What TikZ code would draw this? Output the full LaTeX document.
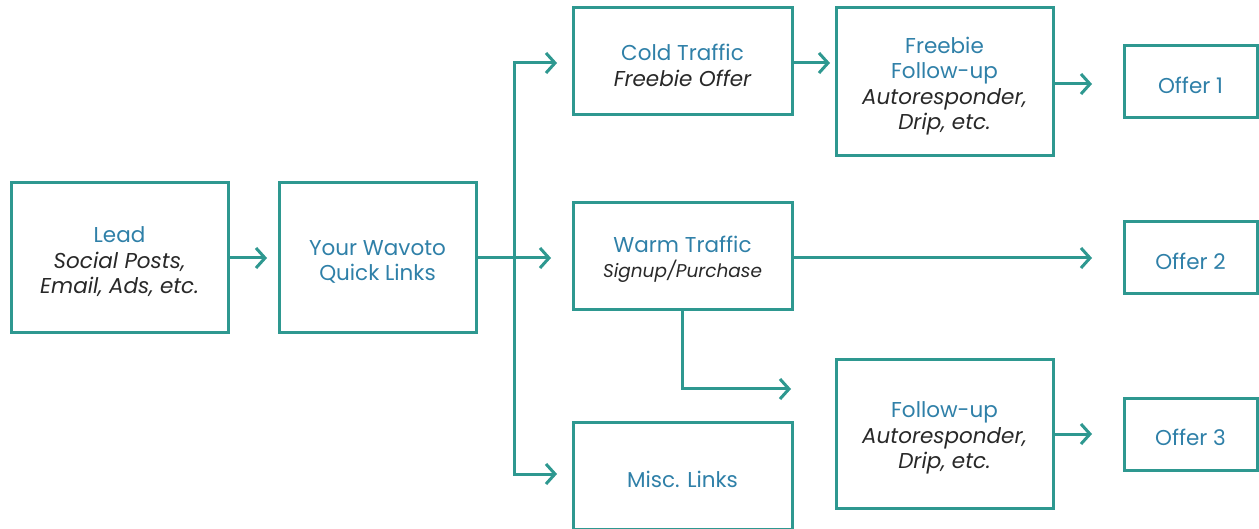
\documentclass[tikz,border=0pt]{standalone}
\usepackage{fontspec}
\setmainfont{Poppins}
\usetikzlibrary{arrows.meta,calc}
\definecolor{teal1}{RGB}{46,152,144}
\definecolor{blue1}{RGB}{47,128,168}
\definecolor{ink}{RGB}{40,40,40}
\newcommand{\ttl}[1]{{\color{blue1}#1}}
\newcommand{\sub}[1]{{\color{ink}\itshape #1}}
\newcommand{\subs}[1]{{\color{ink}\itshape\fontsize{18.5}{22}\selectfont #1}}
\begin{document}
\begin{tikzpicture}[x=1pt,y=-1pt,
  box/.style={draw=teal1,line width=3pt,inner sep=0pt,outer sep=0pt},
  txt/.style={inner sep=0pt,align=center,font=\fontsize{21.5}{25.5}\selectfont},
  wide/.style={box,minimum width=217pt,minimum height=150pt},
  mid/.style={box,minimum width=219pt,minimum height=107pt},
  tall/.style={box,minimum width=217pt,minimum height=148pt},
  offer/.style={box,minimum width=133pt,minimum height=72pt},
  conn/.style={draw=teal1,line width=3pt},
  arr/.style={conn,-{Straight Barb[length=9pt,width=20pt,line width=3pt]}}]
\useasboundingbox (0,0) rectangle (1259,529);
\node[wide] (lead) at (119.5,258) {};
\node[wide,minimum width=197pt] (ql) at (377.5,258) {};
\node[mid] (cold) at (682.5,61.5) {};
\node[mid] (warm) at (682.5,256.5) {};
\node[mid] (misc) at (682.5,475.5) {};
\node[tall] (freebie) at (944.5,82) {};
\node[tall] (follow) at (944.5,434) {};
\node[offer] (o1) at (1190.5,82) {};
\node[offer] (o2) at (1190.5,258) {};
\node[offer] (o3) at (1190.5,434.5) {};
% texts
\node[txt] (leadt) at ([yshift=-4pt]lead.center) {\ttl{Lead}\\\sub{Social Posts,}\\\sub{Email, Ads, etc.}};
\node[txt] (qlt) at ([yshift=-4pt]ql.center) {\ttl{Your Wavoto}\\\ttl{Quick Links}};
\node[txt] (coldt) at ([yshift=-4pt]cold.center) {\ttl{Cold Traffic}\\\sub{Freebie Offer}};
\node[txt] (warmt) at ([yshift=-3pt]warm.center) {\ttl{Warm Traffic}\\\subs{Signup/Purchase}};
\node[txt] (misct) at ([yshift=-4pt]misc.center) {\ttl{Misc. Links}};
\node[txt] (freebiet) at ([yshift=-4pt]freebie.center) {\ttl{Freebie}\\\ttl{Follow-up}\\\sub{Autoresponder,}\\\sub{Drip, etc.}};
\node[txt] (followt) at ([yshift=-4pt]follow.center) {\ttl{Follow-up}\\\sub{Autoresponder,}\\\sub{Drip, etc.}};
\node[txt] (o1t) at ([yshift=-3pt]o1.center) {\ttl{Offer 1}};
\node[txt] (o2t) at ([yshift=-3pt]o2.center) {\ttl{Offer 2}};
\node[txt] (o3t) at ([yshift=-3pt]o3.center) {\ttl{Offer 3}};
% junction coordinates
\coordinate (jt) at (514,63);
\coordinate (jm) at (514,258);
\coordinate (jb) at (514,474);
\coordinate (w2) at (791,389);
% connectors
\draw[arr,shorten >=12pt] (lead.east) -- (ql.west);
\draw[conn] (ql.east) -- (jm);
\draw[conn,line cap=rect] (jt) -- (jb);
\draw[arr,shorten >=16pt] (jt) -- (jt -| cold.west);
\draw[arr,shorten >=22pt] (jm) -- (jm -| warm.west);
\draw[arr,shorten >=16pt] (jb) -- (jb -| misc.west);
\draw[arr,shorten >=6pt] (cold.east |- jt) -- (jt -| freebie.west);
\draw[arr,shorten >=32pt] (freebie.east |- 0,84) -- (o1.west |- 0,84);
\draw[arr,shorten >=32pt] (warm.east |- jm) -- (o2.west |- jm);
\draw[arr] (warm.south) |- (w2);
\draw[arr,shorten >=32pt] (follow.east) -- (o3.west |- follow.east);
\end{tikzpicture}
\end{document}
